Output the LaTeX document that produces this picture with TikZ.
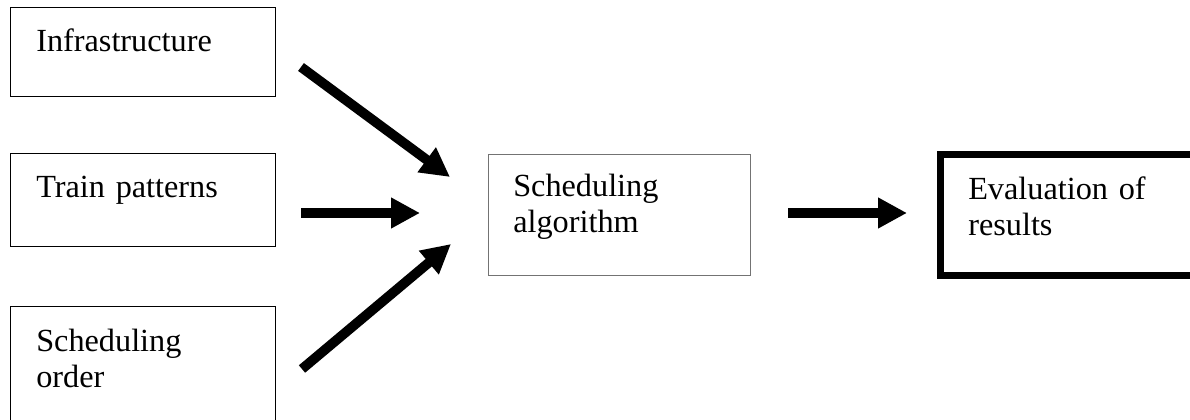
\documentclass[tikz,border=0pt]{standalone}
\usepackage{fontspec}
\setmainfont{Liberation Serif}
\usetikzlibrary{arrows.meta}
\begin{document}
\begin{tikzpicture}[x=0.75pt,y=-0.75pt,
		font=\fontsize{24.2}{27}\selectfont,
		box/.style={draw,line width=1.1pt,anchor=north west,inner sep=0pt,outer sep=0pt},
		txt/.style={anchor=base west,align=left,text width=180pt,inner sep=0pt},
		arr/.style={line width=7.3pt,-{Triangle[length=21.75pt,width=21.75pt]}}]
	\clip (0,0) rectangle (1190,420);
	% input boxes
	\node[box,minimum width=198.75pt,minimum height=66.75pt] (infra) at (10.5,7.5) {};
	\node[box,minimum width=198.75pt,minimum height=69.75pt] (train) at (10.5,153.5) {};
	\node[box,minimum width=198.75pt,minimum height=100pt] (order) at (10.5,306.5) {};
	\node[txt] (tinfra) at ([shift={(25.5,44.5)}]infra.north west) {Infrastructure};
	\node[txt] (ttrain) at ([shift={(25.5,44.5)}]train.north west) {Train patterns};
	\node[txt] (torder) at ([shift={(25.5,45.5)}]order.north west) {Scheduling\\order};
	% algorithm and results
	\node[box,draw=black!55,line width=0.8pt,minimum width=196.5pt,minimum height=90.75pt] (algo) at (488.5,154.5) {};
	\node[txt] (talgo) at ([shift={(24.5,42.5)}]algo.north west) {Scheduling\\algorithm};
	\node[box,line width=5.25pt,minimum width=202.5pt,minimum height=90.4pt] (eval) at (940.5,154.5) {};
	\node[txt] (teval) at ([shift={(27.5,45.5)}]eval.north west) {Evaluation of\\results};
	% arrows
	\coordinate (a1) at (301,67);  \coordinate (b1) at (450,177);
	\coordinate (a2) at (301,213); \coordinate (b2) at (420,213);
	\coordinate (a3) at (302,369); \coordinate (b3) at (451,244);
	\coordinate (a4) at (788,213); \coordinate (b4) at (907,213);
	\draw[arr] (a1)--(b1);
	\draw[arr] (a2)--(b2);
	\draw[arr] (a3)--(b3);
	\draw[arr] (a4)--(b4);
\end{tikzpicture}
\end{document}
